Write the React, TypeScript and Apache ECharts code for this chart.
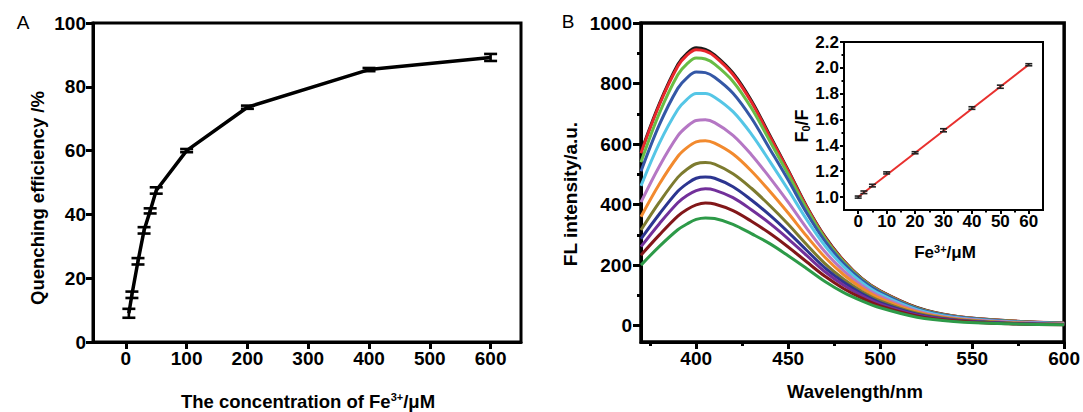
import React, { useEffect, useRef } from "react";
import * as echarts from "echarts";

// ---------- Panel A data ----------
const concA = [5, 10, 20, 30, 40, 50, 100, 200, 400, 600];
const effA = [9.0, 14.8, 25.3, 35.0, 41.1, 47.5, 60.0, 73.6, 85.4, 89.2];
const errA = [1.4, 1.0, 1.0, 1.0, 0.8, 1.0, 0.5, 0.5, 0.5, 1.1];
const ticksAX = [0, 100, 200, 300, 400, 500, 600];
const ticksAY = [0, 20, 40, 60, 80, 100];

// ---------- Panel B data ----------
const wavelengths = [370, 380, 390, 395, 400, 405, 410, 420, 430, 440, 450, 460, 470, 480, 490, 500, 520, 540, 570, 600];
const fl0 = [574, 734, 863, 900, 918, 913, 895, 835, 744, 629, 514, 395, 294, 216, 156, 115, 60, 32, 16, 8];
const fl1 = [570, 730, 857, 894, 912, 907, 890, 830, 739, 625, 511, 393, 292, 215, 155, 114, 59, 32, 16, 9];
const fl2 = [540, 702, 829, 865, 884, 881, 864, 807, 719, 610, 500, 386, 288, 212, 154, 113, 58, 31, 15, 8];
const fl3 = [510, 664, 784, 819, 838, 836, 821, 768, 686, 584, 481, 373, 279, 206, 150, 110, 56, 30, 14, 8];
const fl4 = [462, 603, 714, 748, 767, 767, 755, 707, 633, 543, 449, 351, 264, 196, 143, 104, 53, 28, 13, 7];
const fl5 = [408, 527, 627, 658, 678, 680, 671, 629, 565, 489, 408, 322, 244, 182, 133, 97, 49, 25, 12, 6];
const fl6 = [360, 468, 559, 588, 607, 611, 603, 567, 511, 444, 372, 296, 226, 169, 124, 90, 45, 23, 10, 5];
const fl7 = [316, 408, 490, 517, 535, 539, 534, 502, 454, 397, 335, 268, 205, 154, 113, 82, 41, 21, 9, 4];
const fl8 = [287, 369, 444, 469, 487, 491, 487, 459, 415, 365, 309, 249, 191, 144, 106, 76, 38, 19, 8, 4];
const fl9 = [261, 337, 406, 430, 446, 452, 448, 423, 383, 338, 287, 232, 178, 134, 99, 71, 35, 18, 7, 4];
const fl10 = [233, 300, 362, 384, 399, 405, 402, 380, 345, 305, 260, 211, 163, 123, 91, 65, 32, 16, 6, 3];
const fl11 = [200, 262, 317, 336, 351, 356, 354, 335, 304, 271, 231, 189, 146, 110, 82, 59, 28, 14, 6, 3];
const spectra = [fl0, fl1, fl2, fl3, fl4, fl5, fl6, fl7, fl8, fl9, fl10, fl11];
const curveColors = ["#1a1a1a", "#e8262b", "#69bd45", "#3457a6", "#55c6e6", "#b577c4", "#f28a2e", "#7d7b2f", "#2c3590", "#72309a", "#821719", "#2d9a48"];
const ticksBX = [400, 450, 500, 550, 600];
const minorBX = [375, 425, 475, 525, 575];
const ticksBY = [0, 200, 400, 600, 800, 1000];
const minorBY = [100, 300, 500, 700, 900];

// ---------- Inset data ----------
const insetConc = [0, 2, 5, 10, 20, 30, 40, 50, 60];
const insetRatio = [1.0, 1.037, 1.089, 1.187, 1.343, 1.517, 1.689, 1.854, 2.024];
const insetErr = [0.008, 0.01, 0.01, 0.008, 0.008, 0.012, 0.01, 0.012, 0.008];
const fitX = [0, 60];
const fitY = [1.0, 2.025];
const ticksInX = [0, 10, 20, 30, 40, 50, 60];
const minorInX = [5, 15, 25, 35, 45, 55];
const ticksInY = [1.0, 1.2, 1.4, 1.6, 1.8, 2.0, 2.2];
const minorInY = [1.1, 1.3, 1.5, 1.7, 1.9, 2.1];

const FONT = "'Liberation Sans', Arial, Helvetica, sans-serif";

const plain = (v: number) => String(v);

function mainAxis(gridIndex: number, pos: string, min: number, max: number, ticks: number[], tickLen: number, lineW: number, fontSize: number, margin: number, fmt: (v: number) => string = plain) {
  return {
    type: "value",
    gridIndex,
    position: pos,
    min,
    max,
    axisLine: { show: true, onZero: false, lineStyle: { color: "#000", width: lineW } },
    axisTick: { show: true, inside: false, length: tickLen, customValues: ticks, lineStyle: { color: "#000", width: lineW } },
    axisLabel: {
      show: true,
      customValues: ticks,
      margin,
      color: "#000",
      fontSize,
      fontWeight: "bold",
      fontFamily: FONT,
      formatter: fmt,
    },
    splitLine: { show: false },
    axisPointer: { show: false },
  };
}

function minorAxis(gridIndex: number, pos: string, min: number, max: number, ticks: number[], tickLen: number, lineW: number) {
  return {
    type: "value",
    gridIndex,
    position: pos,
    min,
    max,
    axisLine: { show: false, onZero: false },
    axisTick: { show: true, inside: false, length: tickLen, customValues: ticks, lineStyle: { color: "#000", width: lineW } },
    axisLabel: { show: false },
    splitLine: { show: false },
  };
}

function errorBarRender(halfCap: number, lw: number, color: string) {
  return (params: any, api: any) => {
    const x = api.value(0);
    const lo = api.value(2);
    const hi = api.value(3);
    const pLo = api.coord([x, lo]);
    const pHi = api.coord([x, hi]);
    const st = { stroke: color, lineWidth: lw };
    return {
      type: "group",
      children: [
        { type: "line", shape: { x1: pLo[0], y1: pLo[1], x2: pHi[0], y2: pHi[1] }, style: st },
        { type: "line", shape: { x1: pLo[0] - halfCap, y1: pLo[1], x2: pLo[0] + halfCap, y2: pLo[1] }, style: st },
        { type: "line", shape: { x1: pHi[0] - halfCap, y1: pHi[1], x2: pHi[0] + halfCap, y2: pHi[1] }, style: st },
      ],
    };
  };
}

function titleText(x: number, y: number, text: string, size: number, rotate: boolean, weight = "bold", rich?: any) {
  return {
    type: "text",
    x,
    y,
    rotation: rotate ? Math.PI / 2 : 0,
    style: {
      text,
      fill: "#000",
      fontSize: size,
      fontWeight: weight,
      fontFamily: FONT,
      align: "center",
      verticalAlign: "middle",
      rich,
    },
  };
}

export default function App() {
  const ref = useRef<HTMLDivElement>(null);
  useEffect(() => {
    if (!ref.current) return;
    const chart = echarts.init(ref.current, null, { renderer: "svg" });

    const supRich = {
      sup: { fontSize: 11, fontWeight: "bold", fontFamily: FONT, verticalAlign: "top", fill: "#000" },
    };
    const subRich = {
      sub: { fontSize: 11, fontWeight: "bold", fontFamily: FONT, verticalAlign: "bottom", fill: "#000" },
    };

    const option: any = {
      animation: false,
      backgroundColor: "#fff",
      grid: [
        { left: 93, top: 23, width: 428, height: 319, show: true, borderColor: "#000", borderWidth: 3, backgroundColor: "transparent" },
        { left: 641, top: 23, width: 425, height: 319, show: true, borderColor: "#000", borderWidth: 3.5, backgroundColor: "transparent" },
        { left: 844, top: 42, width: 199, height: 168, show: true, borderColor: "#000", borderWidth: 2, backgroundColor: "#fff" },
      ],
      xAxis: [
        mainAxis(0, "bottom", -54, 650, ticksAX, 7, 3, 19, 7),
        mainAxis(1, "bottom", 370, 600, ticksBX, 7, 3, 19, 7),
        minorAxis(1, "bottom", 370, 600, minorBX, 4, 3),
        mainAxis(2, "bottom", -5, 65, ticksInX, 4, 2, 17, 3),
        minorAxis(2, "bottom", -5, 65, minorInX, 2.5, 2),
      ],
      yAxis: [
        mainAxis(0, "left", 0, 100, ticksAY, 7, 3, 19, 7),
        mainAxis(1, "left", -54, 1000, ticksBY, 8, 3, 19, 9),
        minorAxis(1, "left", -54, 1000, minorBY, 4, 3),
        mainAxis(2, "left", 0.9, 2.2, ticksInY, 4, 2, 17, 5, (v: number) => v.toFixed(1)),
        minorAxis(2, "left", 0.9, 2.2, minorInY, 2.5, 2),
      ],
      series: [
        {
          type: "line",
          xAxisIndex: 0,
          yAxisIndex: 0,
          data: concA.map((c, i) => [c, effA[i]]),
          symbol: "none",
          lineStyle: { color: "#000", width: 3.5 },
          z: 2,
        },
        {
          type: "custom",
          xAxisIndex: 0,
          yAxisIndex: 0,
          data: concA.map((c, i) => [c, effA[i], effA[i] - errA[i], effA[i] + errA[i]]),
          encode: { x: 0, y: 1 },
          renderItem: errorBarRender(6.5, 2.6, "#000"),
          z: 3,
        },
        ...spectra.map((vals, k) => ({
          type: "line",
          xAxisIndex: 1,
          yAxisIndex: 1,
          data: wavelengths.map((w, i) => [w, vals[i]]),
          symbol: "none",
          smooth: 0.35,
          lineStyle: { color: curveColors[k], width: 3 },
          z: 2,
        })),
        {
          type: "line",
          xAxisIndex: 3,
          yAxisIndex: 3,
          data: fitX.map((x, i) => [x, fitY[i]]),
          symbol: "none",
          lineStyle: { color: "#e8302e", width: 2 },
          z: 4,
        },
        {
          type: "custom",
          xAxisIndex: 3,
          yAxisIndex: 3,
          data: insetConc.map((c, i) => [c, insetRatio[i], insetRatio[i] - insetErr[i], insetRatio[i] + insetErr[i]]),
          encode: { x: 0, y: 1 },
          renderItem: errorBarRender(3.5, 1.6, "#222"),
          z: 5,
        },
      ],
      graphic: [
        titleText(23, 22, "A", 19, false, "normal"),
        titleText(568, 21, "B", 19, false, "normal"),
        titleText(37, 198, "Quenching efficiency /%", 18.5, true),
        titleText(308, 401, "The concentration of Fe{sup|3+}/μM", 18.5, false, "bold", supRich),
        titleText(570, 194, "FL intensity/a.u.", 19, true),
        titleText(855, 391, "Wavelength/nm", 18.5, false),
        titleText(802, 126, "F{sub|0}/F", 18, true, "bold", subRich),
        titleText(945, 252, "Fe{sup|3+}/μM", 17, false, "bold", supRich),
      ],
    };

    chart.setOption(option);
    return () => chart.dispose();
  }, []);

  return (
    <div
      ref={ref}
      style={{ position: "fixed", left: 0, top: 0, width: 1083, height: 412, background: "#fff" }}
    />
  );
}
